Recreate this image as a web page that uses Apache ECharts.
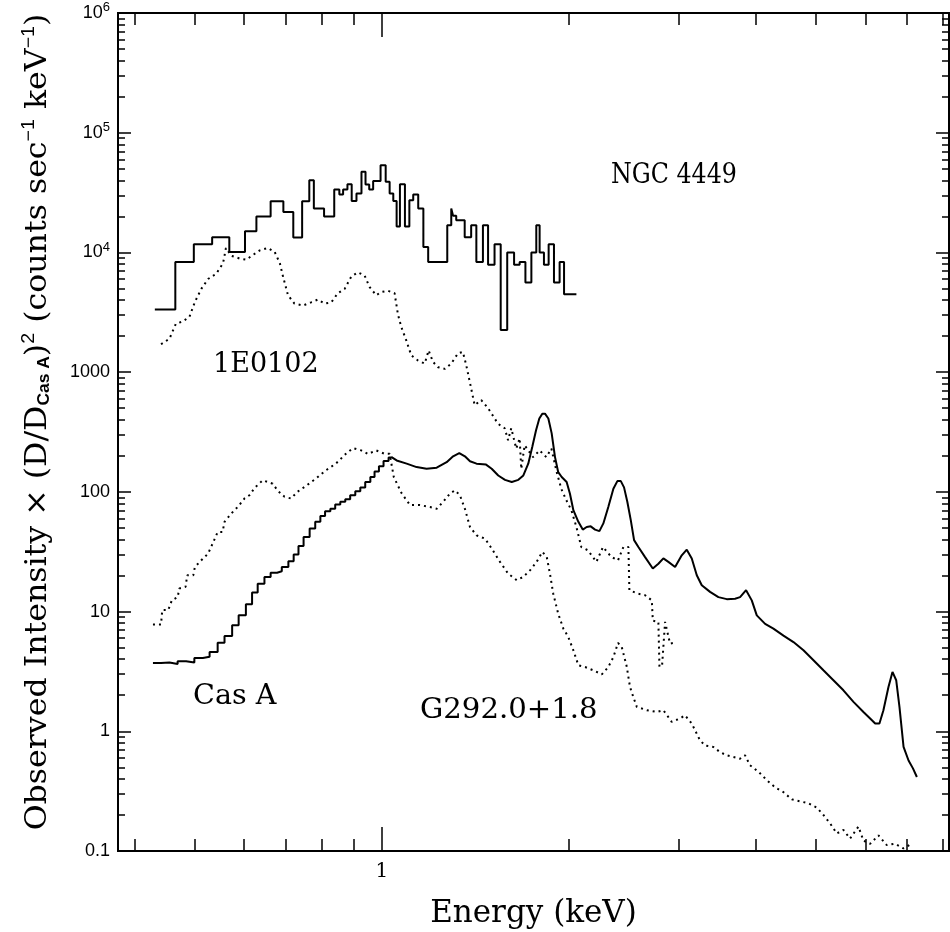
<!DOCTYPE html>
<html>
<head>
<meta charset="utf-8">
<script src="https://cdn.jsdelivr.net/npm/echarts@6/dist/echarts.min.js"></script>
<style>
html, body { margin: 0; padding: 0; background: #fff; }
#chart { width: 950px; height: 932px; }
</style>
</head>
<body>
<div id="chart"></div>
<script>
// ---- data (energy in keV, intensity in counts/s/keV) ----
const ngcEnergy = [0.431,0.465,0.498,0.533,0.568,0.602,0.628,0.662,0.694,0.720,0.744,0.764,0.777,0.807,0.838,0.854,0.866,0.880,0.894,0.910,0.927,0.941,0.954,0.968,0.995,1.014,1.029,1.043,1.056,1.069,1.089,1.107,1.123,1.144,1.166,1.187,1.274,1.293,1.302,1.317,1.359,1.392,1.419,1.454,1.482,1.518,1.553,1.591,1.632,1.666,1.702,1.740,1.772,1.794,1.823,1.855,1.892,1.932,1.964,2.056];
const ngcIntensity = [3340,8330,11700,13400,10100,15000,20000,26800,21800,13300,26800,40100,23300,20000,33500,30500,33500,37100,26900,31100,47100,36900,33500,39600,53500,39000,31100,26900,16500,37100,16500,27300,30500,23300,11100,8330,16900,23300,20200,18600,13400,16900,8330,16900,7900,11700,2250,10000,7900,8330,5600,10000,16900,10000,7900,11700,5600,8330,4480,4480];

// Cas A, coarse bins below 1 keV (drawn as a staircase)
const casLowEnergy = [0.428,0.441,0.455,0.469,0.484,0.499,0.515,0.528,0.544,0.558,0.574,0.588,0.604,0.618,0.631,0.647,0.662,0.678,0.690,0.707,0.721,0.734,0.748,0.765,0.781,0.796,0.810,0.826,0.841,0.857,0.873,0.889,0.906,0.923,0.940,0.958,0.973,0.989,1.006,1.025,1.035];
const casLowIntensity = [3.72,3.75,3.65,3.85,3.75,4.1,4.2,4.6,5.5,6.25,7.7,9.3,11.5,14.4,17.1,19.4,21.1,21.7,23.6,26.3,30,35.3,41.9,49.4,56.2,63,68.8,72.2,78.3,82.6,86.8,93.7,101,109,121,133,148,164,181,194,196];
// Cas A, fine bins above 1 keV
const casHighEnergy = [1.035,1.056,1.096,1.137,1.180,1.225,1.271,1.302,1.332,1.360,1.386,1.420,1.471,1.502,1.539,1.578,1.618,1.658,1.689,1.720,1.746,1.770,1.792,1.812,1.830,1.853,1.876,1.899,1.922,1.947,1.983,2.007,2.033,2.071,2.105,2.136,2.168,2.203,2.239,2.272,2.314,2.358,2.393,2.424,2.453,2.483,2.515,2.546,2.587,2.652,2.729,2.786,2.838,2.891,2.964,3.038,3.095,3.153,3.212,3.272,3.374,3.480,3.590,3.702,3.771,3.856,3.938,4.012,4.138,4.267,4.429,4.596,4.770,4.950,5.136,5.330,5.531,5.741,5.957,6.107,6.222,6.321,6.415,6.536,6.634,6.726,6.808,6.912,7.041,7.157,7.262];
const casHighIntensity = [196,183,172,161,156,159,177,198,211,198,180,172,169,156,137,126,121,126,137,172,238,326,410,450,450,410,308,196,146,133,121,97,70.3,56.2,48.4,50.9,51.5,48.4,47.0,54.5,74.7,106,123,123,109,82.6,58.0,39.5,34.6,28.5,22.9,25.1,27.8,26.0,23.6,29.5,32.9,27.8,20.1,16.6,14.6,13.2,12.7,12.8,13.2,15.1,12.4,9.3,7.9,7.2,6.3,5.56,4.75,3.92,3.23,2.67,2.20,1.76,1.45,1.28,1.16,1.16,1.50,2.34,3.13,2.67,1.60,0.74,0.57,0.49,0.415];

const e0102Energy = [0.441,0.455,0.466,0.478,0.490,0.500,0.512,0.525,0.541,0.555,0.561,0.572,0.590,0.605,0.620,0.636,0.655,0.672,0.685,0.693,0.706,0.723,0.746,0.769,0.789,0.809,0.829,0.849,0.871,0.893,0.915,0.938,0.955,0.979,0.997,1.023,1.048,1.061,1.074,1.094,1.115,1.143,1.172,1.189,1.208,1.231,1.262,1.293,1.326,1.350,1.367,1.392,1.410,1.445,1.482,1.538,1.576,1.596,1.615,1.645,1.666,1.676,1.697,1.751,1.794,1.839,1.874,1.909,1.944,1.981,2.018,2.056,2.094,2.146,2.214,2.269,2.340,2.399,2.447,2.493,2.502,2.572,2.652,2.719,2.729,2.786,2.797,2.825,2.856,2.909,2.964];
const e0102Intensity = [1710,1900,2540,2650,2900,3860,4960,6000,6630,8130,10900,9380,8900,8700,9530,10400,10900,10100,8130,6310,4390,3740,3600,3830,4040,3740,3830,4560,4960,6310,6810,6410,5150,4390,4670,4780,4560,3050,2400,1850,1380,1250,1180,1520,1220,1100,1065,1180,1440,1475,1140,730,530,585,500,370,340,270,340,230,280,155,245,195,222,195,230,150,106,85,70.3,50.9,34.6,32.5,26.0,34.6,28.6,26.8,34.6,34.6,15.1,14.2,13.7,12.4,8.4,8.2,3.44,3.6,8.2,5.4,5.5];

const g292Energy = [0.428,0.441,0.443,0.453,0.459,0.469,0.472,0.483,0.486,0.497,0.500,0.512,0.525,0.534,0.544,0.554,0.558,0.572,0.587,0.601,0.612,0.624,0.643,0.667,0.680,0.697,0.714,0.731,0.758,0.783,0.812,0.843,0.875,0.898,0.926,0.950,0.979,1.010,1.029,1.045,1.076,1.110,1.151,1.195,1.225,1.255,1.287,1.311,1.335,1.360,1.386,1.420,1.465,1.502,1.549,1.597,1.648,1.689,1.731,1.774,1.812,1.842,1.864,1.887,1.922,1.959,1.995,2.033,2.071,2.123,2.189,2.259,2.314,2.358,2.399,2.432,2.477,2.508,2.539,2.572,2.669,2.769,2.838,2.927,3.019,3.075,3.153,3.251,3.313,3.416,3.501,3.590,3.679,3.771,3.841,3.913,4.036,4.165,4.295,4.429,4.568,4.711,4.859,5.012,5.136,5.265,5.398,5.531,5.669,5.848,5.957,6.107,6.299,6.496,6.700,6.912,7.129];
const g292Intensity = [7.8,7.8,10.3,10.3,12.4,13.2,15.6,16.1,20.1,20.1,23.6,26.8,30.5,37.0,46.2,46.2,56.2,65.8,75.6,88.1,93.7,108,125,117,102,91,88,100,114,129,151,172,208,232,222,207,222,208,208,133,97,77.5,77.5,74.7,72.2,82.6,97,103,93.7,72.2,50.9,43.3,40.7,33.6,26.0,20.7,18.3,19.5,22.1,26.0,31.5,28.6,20.7,14.1,9.6,7.2,6.13,4.75,3.56,3.44,3.23,2.99,3.44,4.17,5.47,5.06,3.5,2.34,1.93,1.60,1.50,1.45,1.50,1.20,1.28,1.36,1.16,0.84,0.76,0.74,0.67,0.63,0.61,0.59,0.63,0.52,0.46,0.39,0.34,0.31,0.27,0.26,0.25,0.23,0.20,0.17,0.14,0.15,0.127,0.16,0.122,0.115,0.135,0.112,0.115,0.105,0.115];

// ---- axes ----
const xMin = 0.376, xMax = 8.18;
const yMin = 0.1, yMax = 1e6;
const xMajorTicks = [1];
const xMinorTicks = [0.4, 0.5, 0.6, 0.7, 0.8, 0.9, 2, 3, 4, 5, 6, 7, 8];
const yMajorTicks = [0.1, 1, 10, 100, 1000, 1e4, 1e5, 1e6];
const yMinorTicks = [];
yMajorTicks.slice(0, -1).forEach(function (d) {
    for (let m = 2; m <= 9; m++) yMinorTicks.push(+(d * m).toPrecision(3));
});

const serif = 'DejaVu Serif';
const sans = 'Liberation Sans';

function pairs(xs, ys) {
    return xs.map(function (x, i) { return [x, ys[i]]; });
}

function xAxisDef(pos, ticks, len, withLabel) {
    return {
        type: 'log', logBase: 10, min: xMin, max: xMax, position: pos,
        axisLine: {show: true, lineStyle: {color: '#000', width: 2}},
        axisTick: {show: true, inside: true, length: len, customValues: ticks, lineStyle: {color: '#000', width: 1.5}},
        axisLabel: withLabel ? {
            show: true, customValues: ticks, margin: 11, color: '#000',
            fontFamily: serif, fontSize: 20
        } : {show: false},
        splitLine: {show: false}
    };
}

function yAxisDef(pos, ticks, len, withLabel) {
    return {
        type: 'log', logBase: 10, min: yMin, max: yMax, position: pos,
        axisLine: {show: true, lineStyle: {color: '#000', width: 2}},
        axisTick: {show: true, inside: true, length: len, customValues: ticks, lineStyle: {color: '#000', width: 1.5}},
        axisLabel: withLabel ? {
            show: true, customValues: ticks, margin: 8, color: '#000',
            fontFamily: sans, fontSize: 18,
            formatter: function (v) {
                if (v >= 1e4) return '10{sup|' + Math.round(Math.log10(v)) + '}';
                return String(v);
            },
            rich: {sup: {fontFamily: sans, fontSize: 13, color: '#000', padding: [0, 0, 11, 0]}}
        } : {show: false},
        splitLine: {show: false}
    };
}

const solid = {color: '#000', width: 2};
const dotted = {color: '#000', width: 2, type: [2, 4]};

const chart = echarts.init(document.getElementById('chart'), null, {renderer: 'canvas'});
chart.setOption({
    backgroundColor: '#fff',
    animation: false,
    grid: {left: 118, right: 1, top: 13, bottom: 81, containLabel: false, outerBoundsMode: 'none'},
    xAxis: [
        Object.assign(xAxisDef('bottom', xMajorTicks, 24, true), {
            name: 'Energy (keV)', nameLocation: 'middle', nameGap: 47,
            nameTextStyle: {fontFamily: serif, fontSize: 31, color: '#000'}
        }),
        xAxisDef('bottom', xMinorTicks, 12, false),
        xAxisDef('top', xMajorTicks, 24, false),
        xAxisDef('top', xMinorTicks, 12, false)
    ],
    yAxis: [
        yAxisDef('left', yMajorTicks, 13, true),
        yAxisDef('left', yMinorTicks, 7, false),
        yAxisDef('right', yMajorTicks, 13, false),
        yAxisDef('right', yMinorTicks, 7, false)
    ],
    series: [
        {name: 'NGC 4449', type: 'line', step: 'end', symbol: 'none', data: pairs(ngcEnergy, ngcIntensity), lineStyle: solid},
        {name: 'Cas A', type: 'line', step: 'end', symbol: 'none', data: pairs(casLowEnergy, casLowIntensity), lineStyle: solid},
        {name: 'Cas A', type: 'line', symbol: 'none', data: pairs(casHighEnergy, casHighIntensity), lineStyle: solid},
        {name: '1E0102', type: 'line', symbol: 'none', data: pairs(e0102Energy, e0102Intensity), lineStyle: dotted},
        {name: 'G292.0+1.8', type: 'line', symbol: 'none', data: pairs(g292Energy, g292Intensity), lineStyle: dotted}
    ],
    graphic: [
        {type: 'text', x: 611, y: 176, scaleX: 0.88, style: {text: 'NGC 4449', fontFamily: serif, fontSize: 27, fill: '#000', verticalAlign: 'middle'}},
        {type: 'text', x: 213, y: 365, style: {text: '1E0102', fontFamily: serif, fontSize: 27, fill: '#000', verticalAlign: 'middle'}},
        {type: 'text', x: 193, y: 697, scaleX: 1.06, style: {text: 'Cas A', fontFamily: serif, fontSize: 27, fill: '#000', verticalAlign: 'middle'}},
        {type: 'text', x: 420, y: 711, scaleX: 1.08, style: {text: 'G292.0+1.8', fontFamily: serif, fontSize: 27, fill: '#000', verticalAlign: 'middle'}},
        {
            type: 'text', x: 38, y: 422, rotation: Math.PI / 2, scaleX: 1.09,
            style: {
                text: 'Observed Intensity × (D/D{sub|Cas A}){sup|2} (counts sec{sup|−1} keV{sup|−1})',
                fontFamily: serif, fontSize: 29, fill: '#000', align: 'center', verticalAlign: 'middle',
                rich: {
                    sub: {fontFamily: sans, fontWeight: 'bold', fontSize: 16, fill: '#000', padding: [13, 0, 0, 0]},
                    sup: {fontFamily: sans, fontSize: 18, fill: '#000', padding: [0, 0, 17, 0]}
                }
            }
        }
    ]
});
</script>
</body>
</html>
